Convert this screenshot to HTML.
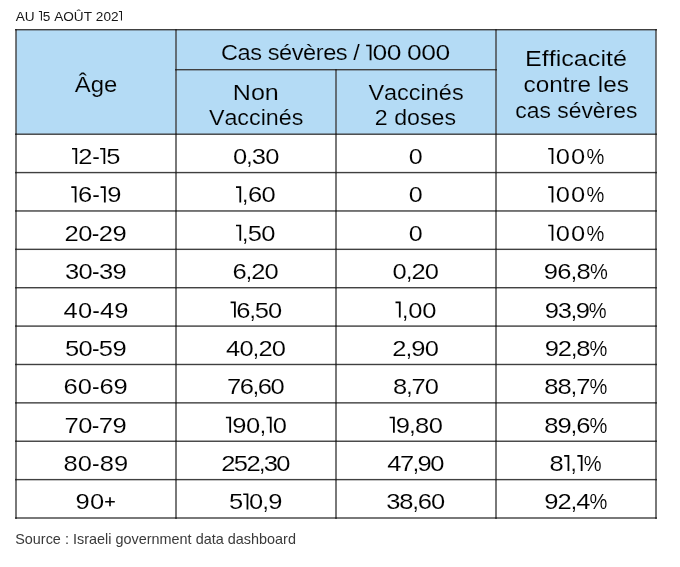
<!DOCTYPE html>
<html><head><meta charset="utf-8"><title>Cas sévères</title>
<style>
html,body{margin:0;padding:0;background:#fff;}
body{width:680px;height:567px;overflow:hidden;}
svg{display:block;will-change:transform;font-family:"Liberation Sans", sans-serif;font-kerning:none;}
</style></head><body>
<svg width="680" height="567" viewBox="0 0 680 567">
<rect x="16.0" y="29.7" width="640.0" height="104.49999999999999" fill="#b4dbf5"/>
<rect x="15.30" y="29.00" width="641.40" height="1.4" fill="#404040"/>
<rect x="175.30" y="69.00" width="321.40" height="1.4" fill="#404040"/>
<rect x="15.30" y="133.50" width="641.40" height="1.4" fill="#404040"/>
<rect x="15.30" y="171.88" width="641.40" height="1.4" fill="#404040"/>
<rect x="15.30" y="210.26" width="641.40" height="1.4" fill="#404040"/>
<rect x="15.30" y="248.64" width="641.40" height="1.4" fill="#404040"/>
<rect x="15.30" y="287.02" width="641.40" height="1.4" fill="#404040"/>
<rect x="15.30" y="325.40" width="641.40" height="1.4" fill="#404040"/>
<rect x="15.30" y="363.78" width="641.40" height="1.4" fill="#404040"/>
<rect x="15.30" y="402.16" width="641.40" height="1.4" fill="#404040"/>
<rect x="15.30" y="440.54" width="641.40" height="1.4" fill="#404040"/>
<rect x="15.30" y="478.92" width="641.40" height="1.4" fill="#404040"/>
<rect x="15.30" y="517.30" width="641.40" height="1.4" fill="#404040"/>
<rect x="15.30" y="29.00" width="1.4" height="489.70" fill="#404040"/>
<rect x="655.30" y="29.00" width="1.4" height="489.70" fill="#404040"/>
<rect x="175.30" y="29.00" width="1.4" height="489.70" fill="#404040"/>
<rect x="495.30" y="29.00" width="1.4" height="489.70" fill="#404040"/>
<rect x="335.30" y="69.00" width="1.4" height="449.70" fill="#404040"/>
<rect x="15.30" y="133.50" width="1.4" height="1.4" fill="#1e1e1e"/>
<rect x="175.30" y="133.50" width="1.4" height="1.4" fill="#1e1e1e"/>
<rect x="335.30" y="133.50" width="1.4" height="1.4" fill="#1e1e1e"/>
<rect x="495.30" y="133.50" width="1.4" height="1.4" fill="#1e1e1e"/>
<rect x="655.30" y="133.50" width="1.4" height="1.4" fill="#1e1e1e"/>
<rect x="15.30" y="171.88" width="1.4" height="1.4" fill="#1e1e1e"/>
<rect x="175.30" y="171.88" width="1.4" height="1.4" fill="#1e1e1e"/>
<rect x="335.30" y="171.88" width="1.4" height="1.4" fill="#1e1e1e"/>
<rect x="495.30" y="171.88" width="1.4" height="1.4" fill="#1e1e1e"/>
<rect x="655.30" y="171.88" width="1.4" height="1.4" fill="#1e1e1e"/>
<rect x="15.30" y="210.26" width="1.4" height="1.4" fill="#1e1e1e"/>
<rect x="175.30" y="210.26" width="1.4" height="1.4" fill="#1e1e1e"/>
<rect x="335.30" y="210.26" width="1.4" height="1.4" fill="#1e1e1e"/>
<rect x="495.30" y="210.26" width="1.4" height="1.4" fill="#1e1e1e"/>
<rect x="655.30" y="210.26" width="1.4" height="1.4" fill="#1e1e1e"/>
<rect x="15.30" y="248.64" width="1.4" height="1.4" fill="#1e1e1e"/>
<rect x="175.30" y="248.64" width="1.4" height="1.4" fill="#1e1e1e"/>
<rect x="335.30" y="248.64" width="1.4" height="1.4" fill="#1e1e1e"/>
<rect x="495.30" y="248.64" width="1.4" height="1.4" fill="#1e1e1e"/>
<rect x="655.30" y="248.64" width="1.4" height="1.4" fill="#1e1e1e"/>
<rect x="15.30" y="287.02" width="1.4" height="1.4" fill="#1e1e1e"/>
<rect x="175.30" y="287.02" width="1.4" height="1.4" fill="#1e1e1e"/>
<rect x="335.30" y="287.02" width="1.4" height="1.4" fill="#1e1e1e"/>
<rect x="495.30" y="287.02" width="1.4" height="1.4" fill="#1e1e1e"/>
<rect x="655.30" y="287.02" width="1.4" height="1.4" fill="#1e1e1e"/>
<rect x="15.30" y="325.40" width="1.4" height="1.4" fill="#1e1e1e"/>
<rect x="175.30" y="325.40" width="1.4" height="1.4" fill="#1e1e1e"/>
<rect x="335.30" y="325.40" width="1.4" height="1.4" fill="#1e1e1e"/>
<rect x="495.30" y="325.40" width="1.4" height="1.4" fill="#1e1e1e"/>
<rect x="655.30" y="325.40" width="1.4" height="1.4" fill="#1e1e1e"/>
<rect x="15.30" y="363.78" width="1.4" height="1.4" fill="#1e1e1e"/>
<rect x="175.30" y="363.78" width="1.4" height="1.4" fill="#1e1e1e"/>
<rect x="335.30" y="363.78" width="1.4" height="1.4" fill="#1e1e1e"/>
<rect x="495.30" y="363.78" width="1.4" height="1.4" fill="#1e1e1e"/>
<rect x="655.30" y="363.78" width="1.4" height="1.4" fill="#1e1e1e"/>
<rect x="15.30" y="402.16" width="1.4" height="1.4" fill="#1e1e1e"/>
<rect x="175.30" y="402.16" width="1.4" height="1.4" fill="#1e1e1e"/>
<rect x="335.30" y="402.16" width="1.4" height="1.4" fill="#1e1e1e"/>
<rect x="495.30" y="402.16" width="1.4" height="1.4" fill="#1e1e1e"/>
<rect x="655.30" y="402.16" width="1.4" height="1.4" fill="#1e1e1e"/>
<rect x="15.30" y="440.54" width="1.4" height="1.4" fill="#1e1e1e"/>
<rect x="175.30" y="440.54" width="1.4" height="1.4" fill="#1e1e1e"/>
<rect x="335.30" y="440.54" width="1.4" height="1.4" fill="#1e1e1e"/>
<rect x="495.30" y="440.54" width="1.4" height="1.4" fill="#1e1e1e"/>
<rect x="655.30" y="440.54" width="1.4" height="1.4" fill="#1e1e1e"/>
<rect x="15.30" y="478.92" width="1.4" height="1.4" fill="#1e1e1e"/>
<rect x="175.30" y="478.92" width="1.4" height="1.4" fill="#1e1e1e"/>
<rect x="335.30" y="478.92" width="1.4" height="1.4" fill="#1e1e1e"/>
<rect x="495.30" y="478.92" width="1.4" height="1.4" fill="#1e1e1e"/>
<rect x="655.30" y="478.92" width="1.4" height="1.4" fill="#1e1e1e"/>
<rect x="15.30" y="517.30" width="1.4" height="1.4" fill="#1e1e1e"/>
<rect x="175.30" y="517.30" width="1.4" height="1.4" fill="#1e1e1e"/>
<rect x="335.30" y="517.30" width="1.4" height="1.4" fill="#1e1e1e"/>
<rect x="495.30" y="517.30" width="1.4" height="1.4" fill="#1e1e1e"/>
<rect x="655.30" y="517.30" width="1.4" height="1.4" fill="#1e1e1e"/>
<rect x="15.30" y="29.00" width="1.4" height="1.4" fill="#1e1e1e"/>
<rect x="175.30" y="29.00" width="1.4" height="1.4" fill="#1e1e1e"/>
<rect x="495.30" y="29.00" width="1.4" height="1.4" fill="#1e1e1e"/>
<rect x="655.30" y="29.00" width="1.4" height="1.4" fill="#1e1e1e"/>
<rect x="175.30" y="69.00" width="1.4" height="1.4" fill="#1e1e1e"/>
<rect x="335.30" y="69.00" width="1.4" height="1.4" fill="#1e1e1e"/>
<rect x="495.30" y="69.00" width="1.4" height="1.4" fill="#1e1e1e"/>
<text transform="translate(74.75,91.80) scale(1.0713,1)" font-size="22.3" fill="#000" stroke="#b4dbf5" stroke-width="0.15">Â</text>
<text transform="translate(90.69,91.80) scale(1.0713,1)" font-size="22.3" fill="#000" stroke="#b4dbf5" stroke-width="0.15">g</text>
<text transform="translate(103.97,91.80) scale(1.0713,1)" font-size="22.3" fill="#000" stroke="#b4dbf5" stroke-width="0.15">e</text>
<text transform="translate(221.00,60.30) scale(1.0600,1)" font-size="22.3" fill="#000" stroke="#b4dbf5" stroke-width="0.15">C</text>
<text transform="translate(237.60,60.30) scale(1.0600,1)" font-size="22.3" fill="#000" stroke="#b4dbf5" stroke-width="0.15">a</text>
<text transform="translate(250.28,60.30) scale(1.0600,1)" font-size="22.3" fill="#000" stroke="#b4dbf5" stroke-width="0.15">s</text>
<text transform="translate(267.73,60.30) scale(1.0600,1)" font-size="22.3" fill="#000" stroke="#b4dbf5" stroke-width="0.15">s</text>
<text transform="translate(279.08,60.30) scale(1.0600,1)" font-size="22.3" fill="#000" stroke="#b4dbf5" stroke-width="0.15">é</text>
<text transform="translate(291.75,60.30) scale(1.0600,1)" font-size="22.3" fill="#000" stroke="#b4dbf5" stroke-width="0.15">v</text>
<text transform="translate(303.10,60.30) scale(1.0600,1)" font-size="22.3" fill="#000" stroke="#b4dbf5" stroke-width="0.15">è</text>
<text transform="translate(315.78,60.30) scale(1.0600,1)" font-size="22.3" fill="#000" stroke="#b4dbf5" stroke-width="0.15">r</text>
<text transform="translate(323.18,60.30) scale(1.0600,1)" font-size="22.3" fill="#000" stroke="#b4dbf5" stroke-width="0.15">e</text>
<text transform="translate(335.86,60.30) scale(1.0600,1)" font-size="22.3" fill="#000" stroke="#b4dbf5" stroke-width="0.15">s</text>
<text transform="translate(353.31,60.30) scale(1.0600,1)" font-size="22.3" fill="#000" stroke="#b4dbf5" stroke-width="0.15">/</text>
<path d="M366.13,44.64H371.49V60.30H369.65V46.23H366.13Z" fill="#000"/>
<text transform="translate(372.49,60.30) scale(1.1872,1)" font-size="22.3" fill="#000" stroke="#b4dbf5" stroke-width="0.15">0</text>
<text transform="translate(386.75,60.30) scale(1.1872,1)" font-size="22.3" fill="#000" stroke="#b4dbf5" stroke-width="0.15">0</text>
<text transform="translate(407.10,60.30) scale(1.1872,1)" font-size="22.3" fill="#000" stroke="#b4dbf5" stroke-width="0.15">0</text>
<text transform="translate(421.36,60.30) scale(1.1872,1)" font-size="22.3" fill="#000" stroke="#b4dbf5" stroke-width="0.15">0</text>
<text transform="translate(435.61,60.30) scale(1.1872,1)" font-size="22.3" fill="#000" stroke="#b4dbf5" stroke-width="0.15">0</text>
<text transform="translate(232.74,99.50) scale(1.1267,1)" font-size="22.3" fill="#000" stroke="#b4dbf5" stroke-width="0.15">N</text>
<text transform="translate(250.88,99.50) scale(1.1267,1)" font-size="22.3" fill="#000" stroke="#b4dbf5" stroke-width="0.15">o</text>
<text transform="translate(264.86,99.50) scale(1.1267,1)" font-size="22.3" fill="#000" stroke="#b4dbf5" stroke-width="0.15">n</text>
<text transform="translate(208.90,125.20) scale(1.0437,1)" font-size="22.3" fill="#000" stroke="#b4dbf5" stroke-width="0.15">V</text>
<text transform="translate(224.42,125.20) scale(1.0437,1)" font-size="22.3" fill="#000" stroke="#b4dbf5" stroke-width="0.15">a</text>
<text transform="translate(237.37,125.20) scale(1.0437,1)" font-size="22.3" fill="#000" stroke="#b4dbf5" stroke-width="0.15">c</text>
<text transform="translate(249.00,125.20) scale(1.0437,1)" font-size="22.3" fill="#000" stroke="#b4dbf5" stroke-width="0.15">c</text>
<text transform="translate(260.64,125.20) scale(1.0437,1)" font-size="22.3" fill="#000" stroke="#b4dbf5" stroke-width="0.15">i</text>
<text transform="translate(265.81,125.20) scale(1.0437,1)" font-size="22.3" fill="#000" stroke="#b4dbf5" stroke-width="0.15">n</text>
<text transform="translate(278.76,125.20) scale(1.0437,1)" font-size="22.3" fill="#000" stroke="#b4dbf5" stroke-width="0.15">é</text>
<text transform="translate(291.70,125.20) scale(1.0437,1)" font-size="22.3" fill="#000" stroke="#b4dbf5" stroke-width="0.15">s</text>
<text transform="translate(368.40,99.50) scale(1.0527,1)" font-size="22.3" fill="#000" stroke="#b4dbf5" stroke-width="0.15">V</text>
<text transform="translate(384.05,99.50) scale(1.0527,1)" font-size="22.3" fill="#000" stroke="#b4dbf5" stroke-width="0.15">a</text>
<text transform="translate(397.11,99.50) scale(1.0527,1)" font-size="22.3" fill="#000" stroke="#b4dbf5" stroke-width="0.15">c</text>
<text transform="translate(408.85,99.50) scale(1.0527,1)" font-size="22.3" fill="#000" stroke="#b4dbf5" stroke-width="0.15">c</text>
<text transform="translate(420.58,99.50) scale(1.0527,1)" font-size="22.3" fill="#000" stroke="#b4dbf5" stroke-width="0.15">i</text>
<text transform="translate(425.80,99.50) scale(1.0527,1)" font-size="22.3" fill="#000" stroke="#b4dbf5" stroke-width="0.15">n</text>
<text transform="translate(438.86,99.50) scale(1.0527,1)" font-size="22.3" fill="#000" stroke="#b4dbf5" stroke-width="0.15">é</text>
<text transform="translate(451.91,99.50) scale(1.0527,1)" font-size="22.3" fill="#000" stroke="#b4dbf5" stroke-width="0.15">s</text>
<text transform="translate(374.83,125.20) scale(1.0397,1)" font-size="22.3" fill="#000" stroke="#b4dbf5" stroke-width="0.15">2</text>
<text transform="translate(394.17,125.20) scale(1.0397,1)" font-size="22.3" fill="#000" stroke="#b4dbf5" stroke-width="0.15">d</text>
<text transform="translate(407.06,125.20) scale(1.0397,1)" font-size="22.3" fill="#000" stroke="#b4dbf5" stroke-width="0.15">o</text>
<text transform="translate(419.96,125.20) scale(1.0397,1)" font-size="22.3" fill="#000" stroke="#b4dbf5" stroke-width="0.15">s</text>
<text transform="translate(431.55,125.20) scale(1.0397,1)" font-size="22.3" fill="#000" stroke="#b4dbf5" stroke-width="0.15">e</text>
<text transform="translate(444.45,125.20) scale(1.0397,1)" font-size="22.3" fill="#000" stroke="#b4dbf5" stroke-width="0.15">s</text>
<text transform="translate(524.94,66.20) scale(1.1283,1)" font-size="22.3" fill="#000" stroke="#b4dbf5" stroke-width="0.15">E</text>
<text transform="translate(541.72,66.20) scale(1.1283,1)" font-size="22.3" fill="#000" stroke="#b4dbf5" stroke-width="0.15">f</text>
<text transform="translate(548.71,66.20) scale(1.1283,1)" font-size="22.3" fill="#000" stroke="#b4dbf5" stroke-width="0.15">f</text>
<text transform="translate(555.70,66.20) scale(1.1283,1)" font-size="22.3" fill="#000" stroke="#b4dbf5" stroke-width="0.15">i</text>
<text transform="translate(561.29,66.20) scale(1.1283,1)" font-size="22.3" fill="#000" stroke="#b4dbf5" stroke-width="0.15">c</text>
<text transform="translate(573.87,66.20) scale(1.1283,1)" font-size="22.3" fill="#000" stroke="#b4dbf5" stroke-width="0.15">a</text>
<text transform="translate(587.86,66.20) scale(1.1283,1)" font-size="22.3" fill="#000" stroke="#b4dbf5" stroke-width="0.15">c</text>
<text transform="translate(600.44,66.20) scale(1.1283,1)" font-size="22.3" fill="#000" stroke="#b4dbf5" stroke-width="0.15">i</text>
<text transform="translate(606.03,66.20) scale(1.1283,1)" font-size="22.3" fill="#000" stroke="#b4dbf5" stroke-width="0.15">t</text>
<text transform="translate(613.02,66.20) scale(1.1283,1)" font-size="22.3" fill="#000" stroke="#b4dbf5" stroke-width="0.15">é</text>
<text transform="translate(523.47,91.80) scale(1.0914,1)" font-size="22.3" fill="#000" stroke="#b4dbf5" stroke-width="0.15">c</text>
<text transform="translate(535.63,91.80) scale(1.0914,1)" font-size="22.3" fill="#000" stroke="#b4dbf5" stroke-width="0.15">o</text>
<text transform="translate(549.17,91.80) scale(1.0914,1)" font-size="22.3" fill="#000" stroke="#b4dbf5" stroke-width="0.15">n</text>
<text transform="translate(562.71,91.80) scale(1.0914,1)" font-size="22.3" fill="#000" stroke="#b4dbf5" stroke-width="0.15">t</text>
<text transform="translate(569.47,91.80) scale(1.0914,1)" font-size="22.3" fill="#000" stroke="#b4dbf5" stroke-width="0.15">r</text>
<text transform="translate(577.57,91.80) scale(1.0914,1)" font-size="22.3" fill="#000" stroke="#b4dbf5" stroke-width="0.15">e</text>
<text transform="translate(597.87,91.80) scale(1.0914,1)" font-size="22.3" fill="#000" stroke="#b4dbf5" stroke-width="0.15">l</text>
<text transform="translate(603.28,91.80) scale(1.0914,1)" font-size="22.3" fill="#000" stroke="#b4dbf5" stroke-width="0.15">e</text>
<text transform="translate(616.81,91.80) scale(1.0914,1)" font-size="22.3" fill="#000" stroke="#b4dbf5" stroke-width="0.15">s</text>
<text transform="translate(515.23,118.40) scale(1.0271,1)" font-size="22.3" fill="#000" stroke="#b4dbf5" stroke-width="0.15">c</text>
<text transform="translate(526.68,118.40) scale(1.0271,1)" font-size="22.3" fill="#000" stroke="#b4dbf5" stroke-width="0.15">a</text>
<text transform="translate(539.42,118.40) scale(1.0271,1)" font-size="22.3" fill="#000" stroke="#b4dbf5" stroke-width="0.15">s</text>
<text transform="translate(557.23,118.40) scale(1.0271,1)" font-size="22.3" fill="#000" stroke="#b4dbf5" stroke-width="0.15">s</text>
<text transform="translate(568.68,118.40) scale(1.0271,1)" font-size="22.3" fill="#000" stroke="#b4dbf5" stroke-width="0.15">é</text>
<text transform="translate(581.42,118.40) scale(1.0271,1)" font-size="22.3" fill="#000" stroke="#b4dbf5" stroke-width="0.15">v</text>
<text transform="translate(592.87,118.40) scale(1.0271,1)" font-size="22.3" fill="#000" stroke="#b4dbf5" stroke-width="0.15">è</text>
<text transform="translate(605.61,118.40) scale(1.0271,1)" font-size="22.3" fill="#000" stroke="#b4dbf5" stroke-width="0.15">r</text>
<text transform="translate(613.24,118.40) scale(1.0271,1)" font-size="22.3" fill="#000" stroke="#b4dbf5" stroke-width="0.15">e</text>
<text transform="translate(625.98,118.40) scale(1.0271,1)" font-size="22.3" fill="#000" stroke="#b4dbf5" stroke-width="0.15">s</text>
<path d="M72.00,147.99H77.17V164.00H75.39V149.61H72.00Z" fill="#000"/>
<text transform="translate(78.29,164.00) scale(1.1200,1)" font-size="22.8" fill="#000" stroke="#fff" stroke-width="0.1">2</text>
<text transform="translate(92.19,164.00) scale(1.0000,1)" font-size="22.8" fill="#000" stroke="#fff" stroke-width="0.1">-</text>
<path d="M100.09,147.99H105.25V164.00H103.48V149.61H100.09Z" fill="#000"/>
<text transform="translate(106.37,164.00) scale(1.1200,1)" font-size="22.8" fill="#000" stroke="#fff" stroke-width="0.1">5</text>
<text transform="translate(232.90,164.00) scale(1.1200,1)" font-size="22.8" fill="#000" stroke="#fff" stroke-width="0.1">0</text>
<text transform="translate(246.29,164.00) scale(1.0000,1)" font-size="22.8" fill="#000" stroke="#fff" stroke-width="0.1">,</text>
<text transform="translate(251.81,164.00) scale(1.1200,1)" font-size="22.8" fill="#000" stroke="#fff" stroke-width="0.1">3</text>
<text transform="translate(265.20,164.00) scale(1.1200,1)" font-size="22.8" fill="#000" stroke="#fff" stroke-width="0.1">0</text>
<text transform="translate(408.82,164.00) scale(1.1010,1)" font-size="22.8" fill="#000" stroke="#fff" stroke-width="0.1">0</text>
<path d="M548.20,147.99H553.37V164.00H551.59V149.61H548.20Z" fill="#000"/>
<text transform="translate(555.85,164.00) scale(1.1200,1)" font-size="22.8" fill="#000" stroke="#fff" stroke-width="0.1">0</text>
<text transform="translate(571.11,164.00) scale(1.1200,1)" font-size="22.8" fill="#000" stroke="#fff" stroke-width="0.1">0</text>
<text transform="translate(586.38,164.00) scale(0.8800,1)" font-size="22.8" fill="#000" stroke="#fff" stroke-width="0.1">%</text>
<path d="M71.30,186.37H76.47V202.38H74.69V187.99H71.30Z" fill="#000"/>
<text transform="translate(77.97,202.38) scale(1.1200,1)" font-size="22.8" fill="#000" stroke="#fff" stroke-width="0.1">6</text>
<text transform="translate(92.25,202.38) scale(1.0000,1)" font-size="22.8" fill="#000" stroke="#fff" stroke-width="0.1">-</text>
<path d="M100.54,186.37H105.71V202.38H103.93V187.99H100.54Z" fill="#000"/>
<text transform="translate(107.21,202.38) scale(1.1200,1)" font-size="22.8" fill="#000" stroke="#fff" stroke-width="0.1">9</text>
<path d="M236.00,186.37H241.17V202.38H239.39V187.99H236.00Z" fill="#000"/>
<text transform="translate(242.08,202.38) scale(1.0000,1)" font-size="22.8" fill="#000" stroke="#fff" stroke-width="0.1">,</text>
<text transform="translate(247.90,202.38) scale(1.1200,1)" font-size="22.8" fill="#000" stroke="#fff" stroke-width="0.1">6</text>
<text transform="translate(261.60,202.38) scale(1.1200,1)" font-size="22.8" fill="#000" stroke="#fff" stroke-width="0.1">0</text>
<text transform="translate(408.82,202.38) scale(1.1010,1)" font-size="22.8" fill="#000" stroke="#fff" stroke-width="0.1">0</text>
<path d="M548.20,186.37H553.37V202.38H551.59V187.99H548.20Z" fill="#000"/>
<text transform="translate(555.85,202.38) scale(1.1200,1)" font-size="22.8" fill="#000" stroke="#fff" stroke-width="0.1">0</text>
<text transform="translate(571.11,202.38) scale(1.1200,1)" font-size="22.8" fill="#000" stroke="#fff" stroke-width="0.1">0</text>
<text transform="translate(586.38,202.38) scale(0.8800,1)" font-size="22.8" fill="#000" stroke="#fff" stroke-width="0.1">%</text>
<text transform="translate(64.62,240.76) scale(1.1200,1)" font-size="22.8" fill="#000" stroke="#fff" stroke-width="0.1">2</text>
<text transform="translate(78.22,240.76) scale(1.1200,1)" font-size="22.8" fill="#000" stroke="#fff" stroke-width="0.1">0</text>
<text transform="translate(91.82,240.76) scale(1.0000,1)" font-size="22.8" fill="#000" stroke="#fff" stroke-width="0.1">-</text>
<text transform="translate(98.81,240.76) scale(1.1200,1)" font-size="22.8" fill="#000" stroke="#fff" stroke-width="0.1">2</text>
<text transform="translate(112.41,240.76) scale(1.1200,1)" font-size="22.8" fill="#000" stroke="#fff" stroke-width="0.1">9</text>
<path d="M236.00,224.75H241.17V240.76H239.39V226.37H236.00Z" fill="#000"/>
<text transform="translate(241.94,240.76) scale(1.0000,1)" font-size="22.8" fill="#000" stroke="#fff" stroke-width="0.1">,</text>
<text transform="translate(247.64,240.76) scale(1.1200,1)" font-size="22.8" fill="#000" stroke="#fff" stroke-width="0.1">5</text>
<text transform="translate(261.20,240.76) scale(1.1200,1)" font-size="22.8" fill="#000" stroke="#fff" stroke-width="0.1">0</text>
<text transform="translate(408.82,240.76) scale(1.1010,1)" font-size="22.8" fill="#000" stroke="#fff" stroke-width="0.1">0</text>
<path d="M548.20,224.75H553.37V240.76H551.59V226.37H548.20Z" fill="#000"/>
<text transform="translate(555.85,240.76) scale(1.1200,1)" font-size="22.8" fill="#000" stroke="#fff" stroke-width="0.1">0</text>
<text transform="translate(571.11,240.76) scale(1.1200,1)" font-size="22.8" fill="#000" stroke="#fff" stroke-width="0.1">0</text>
<text transform="translate(586.38,240.76) scale(0.8800,1)" font-size="22.8" fill="#000" stroke="#fff" stroke-width="0.1">%</text>
<text transform="translate(64.93,279.14) scale(1.1200,1)" font-size="22.8" fill="#000" stroke="#fff" stroke-width="0.1">3</text>
<text transform="translate(78.45,279.14) scale(1.1200,1)" font-size="22.8" fill="#000" stroke="#fff" stroke-width="0.1">0</text>
<text transform="translate(91.97,279.14) scale(1.0000,1)" font-size="22.8" fill="#000" stroke="#fff" stroke-width="0.1">-</text>
<text transform="translate(98.89,279.14) scale(1.1200,1)" font-size="22.8" fill="#000" stroke="#fff" stroke-width="0.1">3</text>
<text transform="translate(112.41,279.14) scale(1.1200,1)" font-size="22.8" fill="#000" stroke="#fff" stroke-width="0.1">9</text>
<text transform="translate(232.60,279.14) scale(1.1200,1)" font-size="22.8" fill="#000" stroke="#fff" stroke-width="0.1">6</text>
<text transform="translate(245.82,279.14) scale(1.0000,1)" font-size="22.8" fill="#000" stroke="#fff" stroke-width="0.1">,</text>
<text transform="translate(251.18,279.14) scale(1.1200,1)" font-size="22.8" fill="#000" stroke="#fff" stroke-width="0.1">2</text>
<text transform="translate(264.40,279.14) scale(1.1200,1)" font-size="22.8" fill="#000" stroke="#fff" stroke-width="0.1">0</text>
<text transform="translate(392.60,279.14) scale(1.1200,1)" font-size="22.8" fill="#000" stroke="#fff" stroke-width="0.1">0</text>
<text transform="translate(405.92,279.14) scale(1.0000,1)" font-size="22.8" fill="#000" stroke="#fff" stroke-width="0.1">,</text>
<text transform="translate(411.38,279.14) scale(1.1200,1)" font-size="22.8" fill="#000" stroke="#fff" stroke-width="0.1">2</text>
<text transform="translate(424.70,279.14) scale(1.1200,1)" font-size="22.8" fill="#000" stroke="#fff" stroke-width="0.1">0</text>
<text transform="translate(543.70,279.14) scale(1.1200,1)" font-size="22.8" fill="#000" stroke="#fff" stroke-width="0.1">9</text>
<text transform="translate(557.24,279.14) scale(1.1200,1)" font-size="22.8" fill="#000" stroke="#fff" stroke-width="0.1">6</text>
<text transform="translate(570.77,279.14) scale(1.0000,1)" font-size="22.8" fill="#000" stroke="#fff" stroke-width="0.1">,</text>
<text transform="translate(576.44,279.14) scale(1.1200,1)" font-size="22.8" fill="#000" stroke="#fff" stroke-width="0.1">8</text>
<text transform="translate(589.98,279.14) scale(0.8800,1)" font-size="22.8" fill="#000" stroke="#fff" stroke-width="0.1">%</text>
<text transform="translate(63.61,317.52) scale(1.1200,1)" font-size="22.8" fill="#000" stroke="#fff" stroke-width="0.1">4</text>
<text transform="translate(77.94,317.52) scale(1.1200,1)" font-size="22.8" fill="#000" stroke="#fff" stroke-width="0.1">0</text>
<text transform="translate(92.27,317.52) scale(1.0000,1)" font-size="22.8" fill="#000" stroke="#fff" stroke-width="0.1">-</text>
<text transform="translate(99.98,317.52) scale(1.1200,1)" font-size="22.8" fill="#000" stroke="#fff" stroke-width="0.1">4</text>
<text transform="translate(114.31,317.52) scale(1.1200,1)" font-size="22.8" fill="#000" stroke="#fff" stroke-width="0.1">9</text>
<path d="M230.60,301.51H235.77V317.52H233.99V303.13H230.60Z" fill="#000"/>
<text transform="translate(236.20,317.52) scale(1.1200,1)" font-size="22.8" fill="#000" stroke="#fff" stroke-width="0.1">6</text>
<text transform="translate(249.42,317.52) scale(1.0000,1)" font-size="22.8" fill="#000" stroke="#fff" stroke-width="0.1">,</text>
<text transform="translate(254.78,317.52) scale(1.1200,1)" font-size="22.8" fill="#000" stroke="#fff" stroke-width="0.1">5</text>
<text transform="translate(268.00,317.52) scale(1.1200,1)" font-size="22.8" fill="#000" stroke="#fff" stroke-width="0.1">0</text>
<path d="M395.50,301.51H400.67V317.52H398.89V303.13H395.50Z" fill="#000"/>
<text transform="translate(401.98,317.52) scale(1.0000,1)" font-size="22.8" fill="#000" stroke="#fff" stroke-width="0.1">,</text>
<text transform="translate(408.20,317.52) scale(1.1200,1)" font-size="22.8" fill="#000" stroke="#fff" stroke-width="0.1">0</text>
<text transform="translate(422.30,317.52) scale(1.1200,1)" font-size="22.8" fill="#000" stroke="#fff" stroke-width="0.1">0</text>
<text transform="translate(544.70,317.52) scale(1.1200,1)" font-size="22.8" fill="#000" stroke="#fff" stroke-width="0.1">9</text>
<text transform="translate(557.69,317.52) scale(1.1200,1)" font-size="22.8" fill="#000" stroke="#fff" stroke-width="0.1">3</text>
<text transform="translate(570.67,317.52) scale(1.0000,1)" font-size="22.8" fill="#000" stroke="#fff" stroke-width="0.1">,</text>
<text transform="translate(575.79,317.52) scale(1.1200,1)" font-size="22.8" fill="#000" stroke="#fff" stroke-width="0.1">9</text>
<text transform="translate(588.78,317.52) scale(0.8800,1)" font-size="22.8" fill="#000" stroke="#fff" stroke-width="0.1">%</text>
<text transform="translate(64.88,355.90) scale(1.1200,1)" font-size="22.8" fill="#000" stroke="#fff" stroke-width="0.1">5</text>
<text transform="translate(78.41,355.90) scale(1.1200,1)" font-size="22.8" fill="#000" stroke="#fff" stroke-width="0.1">0</text>
<text transform="translate(91.95,355.90) scale(1.0000,1)" font-size="22.8" fill="#000" stroke="#fff" stroke-width="0.1">-</text>
<text transform="translate(98.87,355.90) scale(1.1200,1)" font-size="22.8" fill="#000" stroke="#fff" stroke-width="0.1">5</text>
<text transform="translate(112.41,355.90) scale(1.1200,1)" font-size="22.8" fill="#000" stroke="#fff" stroke-width="0.1">9</text>
<text transform="translate(226.01,355.90) scale(1.1200,1)" font-size="22.8" fill="#000" stroke="#fff" stroke-width="0.1">4</text>
<text transform="translate(239.43,355.90) scale(1.1200,1)" font-size="22.8" fill="#000" stroke="#fff" stroke-width="0.1">0</text>
<text transform="translate(252.84,355.90) scale(1.0000,1)" font-size="22.8" fill="#000" stroke="#fff" stroke-width="0.1">,</text>
<text transform="translate(258.38,355.90) scale(1.1200,1)" font-size="22.8" fill="#000" stroke="#fff" stroke-width="0.1">2</text>
<text transform="translate(271.80,355.90) scale(1.1200,1)" font-size="22.8" fill="#000" stroke="#fff" stroke-width="0.1">0</text>
<text transform="translate(392.32,355.90) scale(1.1200,1)" font-size="22.8" fill="#000" stroke="#fff" stroke-width="0.1">2</text>
<text transform="translate(405.73,355.90) scale(1.0000,1)" font-size="22.8" fill="#000" stroke="#fff" stroke-width="0.1">,</text>
<text transform="translate(411.28,355.90) scale(1.1200,1)" font-size="22.8" fill="#000" stroke="#fff" stroke-width="0.1">9</text>
<text transform="translate(424.70,355.90) scale(1.1200,1)" font-size="22.8" fill="#000" stroke="#fff" stroke-width="0.1">0</text>
<text transform="translate(544.70,355.90) scale(1.1200,1)" font-size="22.8" fill="#000" stroke="#fff" stroke-width="0.1">9</text>
<text transform="translate(557.86,355.90) scale(1.1200,1)" font-size="22.8" fill="#000" stroke="#fff" stroke-width="0.1">2</text>
<text transform="translate(571.02,355.90) scale(1.0000,1)" font-size="22.8" fill="#000" stroke="#fff" stroke-width="0.1">,</text>
<text transform="translate(576.32,355.90) scale(1.1200,1)" font-size="22.8" fill="#000" stroke="#fff" stroke-width="0.1">8</text>
<text transform="translate(589.48,355.90) scale(0.8800,1)" font-size="22.8" fill="#000" stroke="#fff" stroke-width="0.1">%</text>
<text transform="translate(63.60,394.28) scale(1.1200,1)" font-size="22.8" fill="#000" stroke="#fff" stroke-width="0.1">6</text>
<text transform="translate(77.76,394.28) scale(1.1200,1)" font-size="22.8" fill="#000" stroke="#fff" stroke-width="0.1">0</text>
<text transform="translate(91.91,394.28) scale(1.0000,1)" font-size="22.8" fill="#000" stroke="#fff" stroke-width="0.1">-</text>
<text transform="translate(99.45,394.28) scale(1.1200,1)" font-size="22.8" fill="#000" stroke="#fff" stroke-width="0.1">6</text>
<text transform="translate(113.61,394.28) scale(1.1200,1)" font-size="22.8" fill="#000" stroke="#fff" stroke-width="0.1">9</text>
<text transform="translate(226.89,394.28) scale(1.1200,1)" font-size="22.8" fill="#000" stroke="#fff" stroke-width="0.1">7</text>
<text transform="translate(239.78,394.28) scale(1.1200,1)" font-size="22.8" fill="#000" stroke="#fff" stroke-width="0.1">6</text>
<text transform="translate(252.68,394.28) scale(1.0000,1)" font-size="22.8" fill="#000" stroke="#fff" stroke-width="0.1">,</text>
<text transform="translate(257.70,394.28) scale(1.1200,1)" font-size="22.8" fill="#000" stroke="#fff" stroke-width="0.1">6</text>
<text transform="translate(270.60,394.28) scale(1.1200,1)" font-size="22.8" fill="#000" stroke="#fff" stroke-width="0.1">0</text>
<text transform="translate(392.99,394.28) scale(1.1200,1)" font-size="22.8" fill="#000" stroke="#fff" stroke-width="0.1">8</text>
<text transform="translate(406.18,394.28) scale(1.0000,1)" font-size="22.8" fill="#000" stroke="#fff" stroke-width="0.1">,</text>
<text transform="translate(411.50,394.28) scale(1.1200,1)" font-size="22.8" fill="#000" stroke="#fff" stroke-width="0.1">7</text>
<text transform="translate(424.70,394.28) scale(1.1200,1)" font-size="22.8" fill="#000" stroke="#fff" stroke-width="0.1">0</text>
<text transform="translate(544.29,394.28) scale(1.1200,1)" font-size="22.8" fill="#000" stroke="#fff" stroke-width="0.1">8</text>
<text transform="translate(557.55,394.28) scale(1.1200,1)" font-size="22.8" fill="#000" stroke="#fff" stroke-width="0.1">8</text>
<text transform="translate(570.82,394.28) scale(1.0000,1)" font-size="22.8" fill="#000" stroke="#fff" stroke-width="0.1">,</text>
<text transform="translate(576.21,394.28) scale(1.1200,1)" font-size="22.8" fill="#000" stroke="#fff" stroke-width="0.1">7</text>
<text transform="translate(589.48,394.28) scale(0.8800,1)" font-size="22.8" fill="#000" stroke="#fff" stroke-width="0.1">%</text>
<text transform="translate(64.59,432.66) scale(1.1200,1)" font-size="22.8" fill="#000" stroke="#fff" stroke-width="0.1">7</text>
<text transform="translate(78.20,432.66) scale(1.1200,1)" font-size="22.8" fill="#000" stroke="#fff" stroke-width="0.1">0</text>
<text transform="translate(91.80,432.66) scale(1.0000,1)" font-size="22.8" fill="#000" stroke="#fff" stroke-width="0.1">-</text>
<text transform="translate(98.80,432.66) scale(1.1200,1)" font-size="22.8" fill="#000" stroke="#fff" stroke-width="0.1">7</text>
<text transform="translate(112.41,432.66) scale(1.1200,1)" font-size="22.8" fill="#000" stroke="#fff" stroke-width="0.1">9</text>
<path d="M225.90,416.65H231.07V432.66H229.29V418.27H225.90Z" fill="#000"/>
<text transform="translate(232.14,432.66) scale(1.1200,1)" font-size="22.8" fill="#000" stroke="#fff" stroke-width="0.1">9</text>
<text transform="translate(246.00,432.66) scale(1.1200,1)" font-size="22.8" fill="#000" stroke="#fff" stroke-width="0.1">0</text>
<text transform="translate(259.86,432.66) scale(1.0000,1)" font-size="22.8" fill="#000" stroke="#fff" stroke-width="0.1">,</text>
<path d="M266.45,416.65H271.62V432.66H269.85V418.27H266.45Z" fill="#000"/>
<text transform="translate(272.70,432.66) scale(1.1200,1)" font-size="22.8" fill="#000" stroke="#fff" stroke-width="0.1">0</text>
<path d="M389.60,416.65H394.77V432.66H392.99V418.27H389.60Z" fill="#000"/>
<text transform="translate(395.63,432.66) scale(1.1200,1)" font-size="22.8" fill="#000" stroke="#fff" stroke-width="0.1">9</text>
<text transform="translate(409.27,432.66) scale(1.0000,1)" font-size="22.8" fill="#000" stroke="#fff" stroke-width="0.1">,</text>
<text transform="translate(415.05,432.66) scale(1.1200,1)" font-size="22.8" fill="#000" stroke="#fff" stroke-width="0.1">8</text>
<text transform="translate(428.70,432.66) scale(1.1200,1)" font-size="22.8" fill="#000" stroke="#fff" stroke-width="0.1">0</text>
<text transform="translate(544.29,432.66) scale(1.1200,1)" font-size="22.8" fill="#000" stroke="#fff" stroke-width="0.1">8</text>
<text transform="translate(557.55,432.66) scale(1.1200,1)" font-size="22.8" fill="#000" stroke="#fff" stroke-width="0.1">9</text>
<text transform="translate(570.82,432.66) scale(1.0000,1)" font-size="22.8" fill="#000" stroke="#fff" stroke-width="0.1">,</text>
<text transform="translate(576.21,432.66) scale(1.1200,1)" font-size="22.8" fill="#000" stroke="#fff" stroke-width="0.1">6</text>
<text transform="translate(589.48,432.66) scale(0.8800,1)" font-size="22.8" fill="#000" stroke="#fff" stroke-width="0.1">%</text>
<text transform="translate(63.39,471.04) scale(1.1200,1)" font-size="22.8" fill="#000" stroke="#fff" stroke-width="0.1">8</text>
<text transform="translate(77.70,471.04) scale(1.1200,1)" font-size="22.8" fill="#000" stroke="#fff" stroke-width="0.1">0</text>
<text transform="translate(92.00,471.04) scale(1.0000,1)" font-size="22.8" fill="#000" stroke="#fff" stroke-width="0.1">-</text>
<text transform="translate(99.70,471.04) scale(1.1200,1)" font-size="22.8" fill="#000" stroke="#fff" stroke-width="0.1">8</text>
<text transform="translate(114.01,471.04) scale(1.1200,1)" font-size="22.8" fill="#000" stroke="#fff" stroke-width="0.1">9</text>
<text transform="translate(221.32,471.04) scale(1.1200,1)" font-size="22.8" fill="#000" stroke="#fff" stroke-width="0.1">2</text>
<text transform="translate(233.87,471.04) scale(1.1200,1)" font-size="22.8" fill="#000" stroke="#fff" stroke-width="0.1">5</text>
<text transform="translate(246.41,471.04) scale(1.1200,1)" font-size="22.8" fill="#000" stroke="#fff" stroke-width="0.1">2</text>
<text transform="translate(258.96,471.04) scale(1.0000,1)" font-size="22.8" fill="#000" stroke="#fff" stroke-width="0.1">,</text>
<text transform="translate(263.65,471.04) scale(1.1200,1)" font-size="22.8" fill="#000" stroke="#fff" stroke-width="0.1">3</text>
<text transform="translate(276.20,471.04) scale(1.1200,1)" font-size="22.8" fill="#000" stroke="#fff" stroke-width="0.1">0</text>
<text transform="translate(387.21,471.04) scale(1.1200,1)" font-size="22.8" fill="#000" stroke="#fff" stroke-width="0.1">4</text>
<text transform="translate(399.95,471.04) scale(1.1200,1)" font-size="22.8" fill="#000" stroke="#fff" stroke-width="0.1">7</text>
<text transform="translate(412.69,471.04) scale(1.0000,1)" font-size="22.8" fill="#000" stroke="#fff" stroke-width="0.1">,</text>
<text transform="translate(417.56,471.04) scale(1.1200,1)" font-size="22.8" fill="#000" stroke="#fff" stroke-width="0.1">9</text>
<text transform="translate(430.30,471.04) scale(1.1200,1)" font-size="22.8" fill="#000" stroke="#fff" stroke-width="0.1">0</text>
<text transform="translate(549.49,471.04) scale(1.1200,1)" font-size="22.8" fill="#000" stroke="#fff" stroke-width="0.1">8</text>
<path d="M564.14,455.03H569.31V471.04H567.53V456.65H564.14Z" fill="#000"/>
<text transform="translate(570.57,471.04) scale(1.0000,1)" font-size="22.8" fill="#000" stroke="#fff" stroke-width="0.1">,</text>
<path d="M577.35,455.03H582.52V471.04H580.74V456.65H577.35Z" fill="#000"/>
<text transform="translate(583.78,471.04) scale(0.8800,1)" font-size="22.8" fill="#000" stroke="#fff" stroke-width="0.1">%</text>
<text transform="translate(75.50,509.42) scale(1.1200,1)" font-size="22.8" fill="#000" stroke="#fff" stroke-width="0.1">9</text>
<text transform="translate(89.93,509.42) scale(1.1200,1)" font-size="22.8" fill="#000" stroke="#fff" stroke-width="0.1">0</text>
<path d="M105.17,500.91H114.80V502.53H105.17ZM109.18,497.16H110.80V506.28H109.18Z" fill="#000"/>
<text transform="translate(229.08,509.42) scale(1.1200,1)" font-size="22.8" fill="#000" stroke="#fff" stroke-width="0.1">5</text>
<path d="M243.19,493.41H248.35V509.42H246.58V495.03H243.19Z" fill="#000"/>
<text transform="translate(249.07,509.42) scale(1.1200,1)" font-size="22.8" fill="#000" stroke="#fff" stroke-width="0.1">0</text>
<text transform="translate(262.57,509.42) scale(1.0000,1)" font-size="22.8" fill="#000" stroke="#fff" stroke-width="0.1">,</text>
<text transform="translate(268.21,509.42) scale(1.1200,1)" font-size="22.8" fill="#000" stroke="#fff" stroke-width="0.1">9</text>
<text transform="translate(386.13,509.42) scale(1.1200,1)" font-size="22.8" fill="#000" stroke="#fff" stroke-width="0.1">3</text>
<text transform="translate(399.31,509.42) scale(1.1200,1)" font-size="22.8" fill="#000" stroke="#fff" stroke-width="0.1">8</text>
<text transform="translate(412.50,509.42) scale(1.0000,1)" font-size="22.8" fill="#000" stroke="#fff" stroke-width="0.1">,</text>
<text transform="translate(417.81,509.42) scale(1.1200,1)" font-size="22.8" fill="#000" stroke="#fff" stroke-width="0.1">6</text>
<text transform="translate(431.00,509.42) scale(1.1200,1)" font-size="22.8" fill="#000" stroke="#fff" stroke-width="0.1">0</text>
<text transform="translate(544.20,509.42) scale(1.1200,1)" font-size="22.8" fill="#000" stroke="#fff" stroke-width="0.1">9</text>
<text transform="translate(557.49,509.42) scale(1.1200,1)" font-size="22.8" fill="#000" stroke="#fff" stroke-width="0.1">2</text>
<text transform="translate(570.77,509.42) scale(1.0000,1)" font-size="22.8" fill="#000" stroke="#fff" stroke-width="0.1">,</text>
<text transform="translate(576.19,509.42) scale(1.1200,1)" font-size="22.8" fill="#000" stroke="#fff" stroke-width="0.1">4</text>
<text transform="translate(589.48,509.42) scale(0.8800,1)" font-size="22.8" fill="#000" stroke="#fff" stroke-width="0.1">%</text>
<text transform="translate(15.77,20.50) scale(1.0096,1)" font-size="13.5" fill="#161616">A</text>
<text transform="translate(24.86,20.50) scale(1.0096,1)" font-size="13.5" fill="#161616">U</text>
<path d="M38.86,11.02H41.95V20.50H40.89V11.98H38.86Z" fill="#161616"/>
<text transform="translate(42.79,20.50) scale(1.0096,1)" font-size="13.5" fill="#161616">5</text>
<text transform="translate(54.16,20.50) scale(1.0096,1)" font-size="13.5" fill="#161616">A</text>
<text transform="translate(63.25,20.50) scale(1.0096,1)" font-size="13.5" fill="#161616">O</text>
<text transform="translate(73.85,20.50) scale(1.0096,1)" font-size="13.5" fill="#161616">Û</text>
<text transform="translate(83.70,20.50) scale(1.0096,1)" font-size="13.5" fill="#161616">T</text>
<text transform="translate(95.81,20.50) scale(1.0096,1)" font-size="13.5" fill="#161616">2</text>
<text transform="translate(103.39,20.50) scale(1.0096,1)" font-size="13.5" fill="#161616">0</text>
<text transform="translate(110.97,20.50) scale(1.0096,1)" font-size="13.5" fill="#161616">2</text>
<path d="M118.91,11.02H122.00V20.50H120.94V11.98H118.91Z" fill="#161616"/>
<text transform="translate(15.14,543.90) scale(1.0458,1)" font-size="13.8" fill="#3a3a3a">S</text>
<text transform="translate(24.77,543.90) scale(1.0458,1)" font-size="13.8" fill="#3a3a3a">o</text>
<text transform="translate(32.80,543.90) scale(1.0458,1)" font-size="13.8" fill="#3a3a3a">u</text>
<text transform="translate(40.82,543.90) scale(1.0458,1)" font-size="13.8" fill="#3a3a3a">r</text>
<text transform="translate(45.63,543.90) scale(1.0458,1)" font-size="13.8" fill="#3a3a3a">c</text>
<text transform="translate(52.84,543.90) scale(1.0458,1)" font-size="13.8" fill="#3a3a3a">e</text>
<text transform="translate(64.88,543.90) scale(1.0458,1)" font-size="13.8" fill="#3a3a3a">:</text>
<text transform="translate(72.90,543.90) scale(1.0458,1)" font-size="13.8" fill="#3a3a3a">I</text>
<text transform="translate(76.91,543.90) scale(1.0458,1)" font-size="13.8" fill="#3a3a3a">s</text>
<text transform="translate(84.13,543.90) scale(1.0458,1)" font-size="13.8" fill="#3a3a3a">r</text>
<text transform="translate(88.93,543.90) scale(1.0458,1)" font-size="13.8" fill="#3a3a3a">a</text>
<text transform="translate(96.96,543.90) scale(1.0458,1)" font-size="13.8" fill="#3a3a3a">e</text>
<text transform="translate(104.98,543.90) scale(1.0458,1)" font-size="13.8" fill="#3a3a3a">l</text>
<text transform="translate(108.19,543.90) scale(1.0458,1)" font-size="13.8" fill="#3a3a3a">i</text>
<text transform="translate(115.41,543.90) scale(1.0458,1)" font-size="13.8" fill="#3a3a3a">g</text>
<text transform="translate(123.43,543.90) scale(1.0458,1)" font-size="13.8" fill="#3a3a3a">o</text>
<text transform="translate(131.46,543.90) scale(1.0458,1)" font-size="13.8" fill="#3a3a3a">v</text>
<text transform="translate(138.67,543.90) scale(1.0458,1)" font-size="13.8" fill="#3a3a3a">e</text>
<text transform="translate(146.70,543.90) scale(1.0458,1)" font-size="13.8" fill="#3a3a3a">r</text>
<text transform="translate(151.51,543.90) scale(1.0458,1)" font-size="13.8" fill="#3a3a3a">n</text>
<text transform="translate(159.53,543.90) scale(1.0458,1)" font-size="13.8" fill="#3a3a3a">m</text>
<text transform="translate(171.55,543.90) scale(1.0458,1)" font-size="13.8" fill="#3a3a3a">e</text>
<text transform="translate(179.58,543.90) scale(1.0458,1)" font-size="13.8" fill="#3a3a3a">n</text>
<text transform="translate(187.61,543.90) scale(1.0458,1)" font-size="13.8" fill="#3a3a3a">t</text>
<text transform="translate(195.63,543.90) scale(1.0458,1)" font-size="13.8" fill="#3a3a3a">d</text>
<text transform="translate(203.65,543.90) scale(1.0458,1)" font-size="13.8" fill="#3a3a3a">a</text>
<text transform="translate(211.68,543.90) scale(1.0458,1)" font-size="13.8" fill="#3a3a3a">t</text>
<text transform="translate(215.69,543.90) scale(1.0458,1)" font-size="13.8" fill="#3a3a3a">a</text>
<text transform="translate(227.72,543.90) scale(1.0458,1)" font-size="13.8" fill="#3a3a3a">d</text>
<text transform="translate(235.75,543.90) scale(1.0458,1)" font-size="13.8" fill="#3a3a3a">a</text>
<text transform="translate(243.78,543.90) scale(1.0458,1)" font-size="13.8" fill="#3a3a3a">s</text>
<text transform="translate(250.99,543.90) scale(1.0458,1)" font-size="13.8" fill="#3a3a3a">h</text>
<text transform="translate(259.02,543.90) scale(1.0458,1)" font-size="13.8" fill="#3a3a3a">b</text>
<text transform="translate(267.05,543.90) scale(1.0458,1)" font-size="13.8" fill="#3a3a3a">o</text>
<text transform="translate(275.07,543.90) scale(1.0458,1)" font-size="13.8" fill="#3a3a3a">a</text>
<text transform="translate(283.10,543.90) scale(1.0458,1)" font-size="13.8" fill="#3a3a3a">r</text>
<text transform="translate(287.90,543.90) scale(1.0458,1)" font-size="13.8" fill="#3a3a3a">d</text>
</svg>
</body></html>
